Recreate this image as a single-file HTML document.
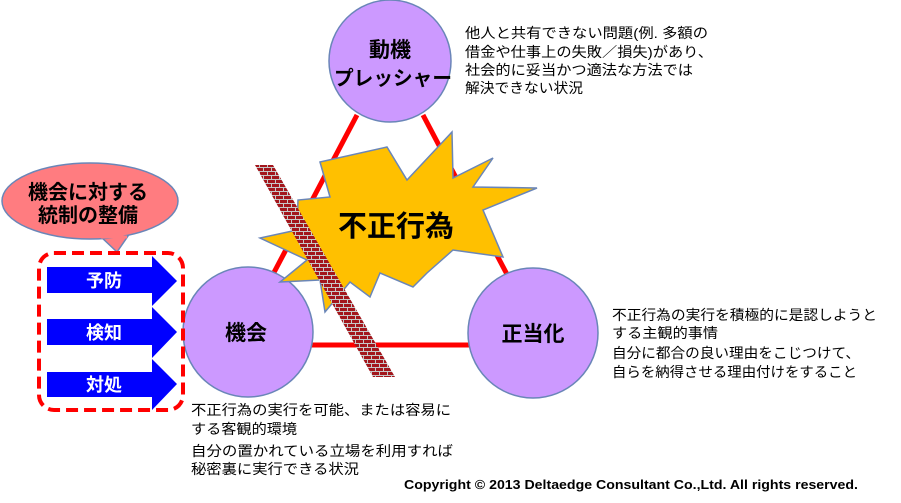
<!DOCTYPE html>
<html><head><meta charset="utf-8"><style>
html,body{margin:0;padding:0;background:#fff;}
svg{display:block;}
text{font-family:"Liberation Sans","Noto Sans CJK JP",sans-serif;}
</style></head><body>
<svg width="901" height="503" viewBox="0 0 901 503" xmlns="http://www.w3.org/2000/svg">
<defs>
<pattern id="brick" width="8" height="8" patternUnits="userSpaceOnUse">
<rect width="8" height="8" fill="#c8c8c8"/>
<rect x="0" y="0" width="7" height="3" fill="#a3161c"/>
<rect x="-4" y="4" width="7" height="3" fill="#a3161c"/>
<rect x="4" y="4" width="7" height="3" fill="#a3161c"/>
</pattern>
</defs>
<!-- triangle lines -->
<g stroke="#ff0000" stroke-width="5">
<line x1="357" y1="115" x2="270" y2="280"/>
<line x1="423" y1="115" x2="510" y2="280"/>
<line x1="300" y1="345" x2="475" y2="345"/>
</g>
<!-- circles -->
<g fill="#cc99ff" stroke="#6a86b8" stroke-width="1.5">
<circle cx="390" cy="61" r="61"/>
<circle cx="248" cy="332" r="65"/>
<circle cx="533" cy="333" r="65"/>
</g>
<!-- explosion -->
<polygon fill="#ffc000" stroke="#6a86b8" stroke-width="1.5" points="320,162 387,147 407,180 452,132 453,178 493,158 473,187 537,188 483,210 503,257 453,250 427,273 413,287 380,273 370,297 350,282 325,312 320,280 280,282 307,260 260,238 297,230 298,200 330,197"/>
<text x="396" y="236" font-size="29" font-weight="bold" text-anchor="middle" fill="#000">不正行為</text>
<!-- wall -->
<polygon fill="url(#brick)" points="255,165 273,165 395,377 373,377"/>
<!-- circle labels -->
<g font-weight="bold" fill="#000" text-anchor="middle">
<text x="390" y="57" font-size="21">動機</text>
<text x="393" y="85" font-size="20" textLength="118" lengthAdjust="spacingAndGlyphs">プレッシャー</text>
<text x="246" y="340" font-size="21">機会</text>
<text x="533" y="341" font-size="21">正当化</text>
</g>
<!-- callout -->
<path d="M100,236 L117,252 L128,236 Z" fill="#ff7c80" stroke="#6a86b8" stroke-width="1.5"/>
<ellipse cx="90" cy="201" rx="88" ry="38" fill="#ff7c80" stroke="#6a86b8" stroke-width="1.5"/>
<path d="M101,237 L127,237" stroke="#ff7c80" stroke-width="3"/>
<g font-weight="bold" font-size="20" fill="#000" text-anchor="middle">
<text x="88" y="199">機会に対する</text>
<text x="88" y="222">統制の整備</text>
</g>
<!-- dashed box -->
<rect x="39" y="253" width="144" height="157" rx="15" fill="none" stroke="#ff0000" stroke-width="4" stroke-dasharray="12 6"/>
<!-- arrows -->
<g fill="#0000ff">
<polygon points="47,267 152,267 152,256 177,281 152,306 152,293 47,293"/>
<polygon points="47,319 152,319 152,307 177,332 152,358 152,345 47,345"/>
<polygon points="47,372 152,372 152,359 177,384 152,410 152,397 47,397"/>
</g>
<g font-weight="bold" font-size="18" fill="#fff" text-anchor="middle">
<text x="104" y="287">予防</text>
<text x="104" y="339">検知</text>
<text x="104" y="391">対処</text>
</g>
<!-- descriptions -->
<g font-size="14" fill="#000" lengthAdjust="spacingAndGlyphs">
<text x="465" y="38" textLength="243" lengthAdjust="spacingAndGlyphs">他人と共有できない問題(例. 多額の</text>
<text x="465" y="57" textLength="248" lengthAdjust="spacingAndGlyphs">借金や仕事上の失敗／損失)があり、</text>
<text x="465" y="75" textLength="228" lengthAdjust="spacingAndGlyphs">社会的に妥当かつ適法な方法では</text>
<text x="465" y="93" textLength="118" lengthAdjust="spacingAndGlyphs">解決できない状況</text>
<text x="612" y="320" textLength="265" lengthAdjust="spacingAndGlyphs">不正行為の実行を積極的に是認しようと</text>
<text x="612" y="338" textLength="106" lengthAdjust="spacingAndGlyphs">する主観的事情</text>
<text x="612" y="358" textLength="248" lengthAdjust="spacingAndGlyphs">自分に都合の良い理由をこじつけて、</text>
<text x="612" y="377" textLength="245" lengthAdjust="spacingAndGlyphs">自らを納得させる理由付けをすること</text>
<text x="191" y="415" textLength="260" lengthAdjust="spacingAndGlyphs">不正行為の実行を可能、または容易に</text>
<text x="191" y="434" textLength="106" lengthAdjust="spacingAndGlyphs">する客観的環境</text>
<text x="191" y="456" textLength="262" lengthAdjust="spacingAndGlyphs">自分の置かれている立場を利用すれば</text>
<text x="191" y="474" textLength="168" lengthAdjust="spacingAndGlyphs">秘密裏に実行できる状況</text>
</g>
<text x="404" y="489" font-size="12.5" font-weight="bold" fill="#000" textLength="454" lengthAdjust="spacingAndGlyphs">Copyright © 2013 Deltaedge Consultant  Co.,Ltd.  All rights reserved.</text>
</svg>
</body></html>
